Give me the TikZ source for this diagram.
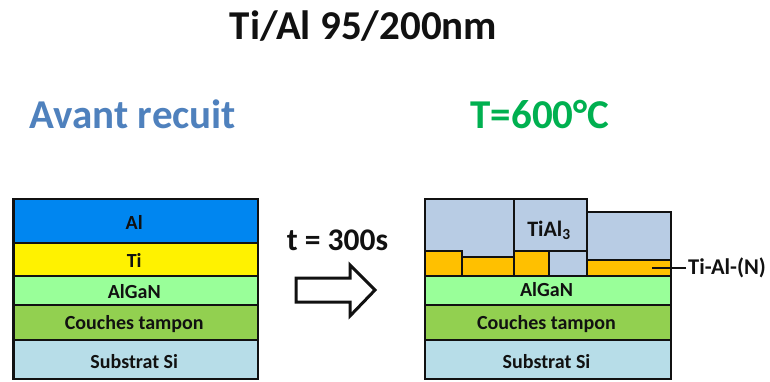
\documentclass[tikz,border=0pt]{standalone}
\usepackage{fontspec}
\setmainfont{Carlito}
\definecolor{alblue}{HTML}{0086F0}
\definecolor{algan}{HTML}{99FF99}
\definecolor{tampon}{HTML}{92D050}
\definecolor{subst}{HTML}{B7DDE8}
\definecolor{tial}{HTML}{B8CCE4}
\definecolor{orng}{HTML}{FFC000}
\definecolor{avant}{HTML}{4F81BD}
\definecolor{tsix}{HTML}{00B050}
\definecolor{ink}{HTML}{111111}
\tikzset{
  layer/.style={draw=ink,line width=2.1pt,inner sep=0pt,outer sep=0pt,text=ink,font=\bfseries\fontsize{20}{24}\selectfont},
  big/.style={inner sep=0pt,font=\bfseries\fontsize{41}{48}\selectfont},
  px/.style={x=1pt,y=-1pt}
}
\newcommand{\lay}[8]{% name, x0, y0, x1, y1, fill, baseline offset, text
  \pgfmathsetmacro{\laycx}{(#2+#4)/2}\pgfmathsetmacro{\laycy}{(#3+#5)/2}
  \pgfmathsetmacro{\laywd}{#4-#2}\pgfmathsetmacro{\layht}{#5-#3}
  \pgfmathsetmacro{\laytx}{2*#7}
  \node[layer,fill=#6,minimum width=\laywd pt,minimum height=\layht pt,text height=\laytx pt,text depth=0pt] (#1) at (\laycx,\laycy) {#8\hspace{3pt}\mbox{}};}
\begin{document}
\begin{tikzpicture}[px]
\useasboundingbox (0,0) rectangle (770,381);
\node[big,text=ink] (title) at (363.5,26) {Ti/Al 95/200nm};
\node[big,text=avant] (avantn) at (133,114) {Avant recuit};
\node[big,text=tsix] (tempn) at (540,114) {T=600°C};
% left stack
\lay{al}{13.5}{199}{258}{243}{alblue}{8.5}{Al}
\lay{ti}{13.5}{243}{258}{276}{yellow}{7.8}{Ti}
\lay{alganl}{13.5}{276}{258}{305}{algan}{7.8}{AlGaN}
\lay{tamponl}{13.5}{305}{258}{340}{tampon}{6.5}{Couches tampon}
\lay{substl}{13.5}{340}{258}{379}{subst}{8.5}{Substrat Si}
% arrow
\node[inner sep=0pt,text=ink,font=\bfseries\fontsize{31.5}{36}\selectfont] (tlabel) at (337.5,240) {t = 300s};
\draw[draw=ink,line width=3pt,fill=white,miter limit=10] (296,278) -- (350,278) -- (350,265) -- (375,290) -- (350,316) -- (350,302) -- (296,302) -- cycle;
% right stack
\lay{b1}{425}{199}{514}{257}{tial}{0}{}
\lay{b3}{587}{212}{671}{260}{tial}{0}{}
\lay{b2}{514}{199}{587}{251}{tial}{11}{\fontsize{22}{26}\selectfont TiAl\textsubscript{3}}
\lay{o1}{425}{251}{462}{276}{orng}{0}{}
\lay{o2}{462}{257}{514}{276}{orng}{0}{}
\lay{o3}{514}{251}{549}{276}{orng}{0}{}
\lay{b4}{549}{251}{587}{276}{tial}{0}{}
\lay{o4}{587}{260}{671}{276}{orng}{0}{}
\lay{alganr}{425}{276}{671}{305}{algan}{6}{AlGaN}
\lay{tamponr}{425}{305}{671}{340}{tampon}{6.5}{Couches tampon}
\lay{substr}{425}{340}{671}{379}{subst}{8.5}{Substrat Si}
% label
\node[anchor=west,inner sep=0pt,text=ink,font=\bfseries\fontsize{22.5}{26}\selectfont] (tial) at (688,268) {Ti-Al-(N)};
\coordinate (tip) at (652,268);
\draw[draw=ink,line width=1.8pt] (tial.west) ++(-2,0) -- (tip);
\end{tikzpicture}
\end{document}
